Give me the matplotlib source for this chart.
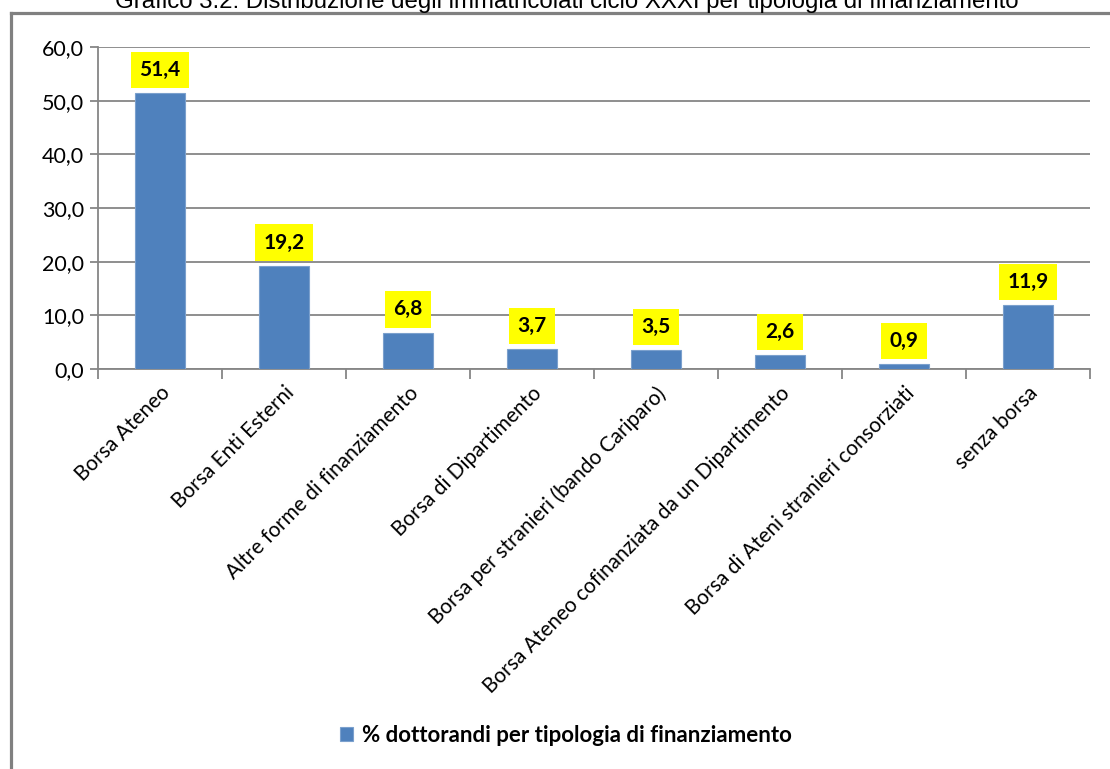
import matplotlib.pyplot as plt
from matplotlib.lines import Line2D

categorie = [
    "Borsa Ateneo",
    "Borsa Enti Esterni",
    "Altre forme di finanziamento",
    "Borsa di Dipartimento",
    "Borsa per stranieri (bando Cariparo)",
    "Borsa Ateneo cofinanziata da un Dipartimento",
    "Borsa di Ateni stranieri consorziati",
    "senza borsa",
]
valori = [51.4, 19.2, 6.8, 3.7, 3.5, 2.6, 0.9, 11.9]
yticks = [0, 10, 20, 30, 40, 50, 60]
titolo = "Grafico 3.2: Distribuzione degli immatricolati ciclo XXXI per tipologia di finanziamento"
legenda = "% dottorandi per tipologia di finanziamento"

W, H = 1110, 769
fig = plt.figure(figsize=(W / 100, H / 100), dpi=100)
ax = fig.add_axes([98 / W, 1 - 369 / H, (1090 - 98) / W, (369 - 47) / H])

font = "Lato"
grigio = "#868686"

x = list(range(len(categorie)))
barre = ax.bar(x, valori, width=0.4, color="#4F81BD", edgecolor="#7BA0CD",
               linewidth=0.8, zorder=3, label=legenda)

ax.set_xlim(-0.5, len(categorie) - 0.5)
ax.set_ylim(0, 60)
ax.set_yticks(yticks)
ax.set_yticklabels([f"{v:.1f}".replace(".", ",") for v in yticks],
                   fontfamily=font, fontsize=15.5)
ax.yaxis.grid(True, color=grigio, linewidth=1.3, zorder=0)

# tick tra le categorie sull'asse x
ax.set_xticks([i + 0.5 for i in range(-1, len(categorie))], minor=False)
ax.set_xticklabels([])
ax.set_xticks(x, minor=True)
ax.set_xticklabels(categorie, minor=True, rotation=45, ha="right", va="top",
                   rotation_mode="anchor", fontfamily=font, fontsize=15)
ax.tick_params(axis="x", which="minor", length=0, pad=10)
ax.tick_params(axis="x", which="major", length=7, color=grigio, width=1.3)
ax.tick_params(axis="y", length=6, color=grigio, width=1.3, pad=4)

for lato in ["top", "right"]:
    ax.spines[lato].set_visible(False)
for lato in ["left", "bottom"]:
    ax.spines[lato].set_color(grigio)
    ax.spines[lato].set_linewidth(1.3)

for b, v in zip(barre, valori):
    ax.annotate(f"{v:.1f}".replace(".", ","),
                (b.get_x() + b.get_width() / 2, v),
                xytext=(0, 9.5), textcoords="offset points",
                ha="center", va="bottom", fontfamily=font, fontweight="bold",
                fontsize=15, zorder=5,
                bbox=dict(boxstyle="square,pad=0.4", fc="#FFFF00", ec="none"))

# cornice
fig.add_artist(Line2D([10.5 / W, 1], [1 - 12.5 / H, 1 - 12.5 / H],
                      transform=fig.transFigure, color="#808080", linewidth=2.3))
fig.add_artist(Line2D([10.5 / W, 10.5 / W], [0, 1 - 12.5 / H],
                      transform=fig.transFigure, color="#808080", linewidth=2.3))

fig.text(567 / W, 1 - 8 / H, titolo, ha="center", va="baseline",
         fontfamily="Liberation Sans", fontsize=17.3)

fig.legend(handles=[barre], labels=[legenda], loc="center",
           bbox_to_anchor=(566 / W, 1 - 735 / H), frameon=False,
           handlelength=0.6, handleheight=0.6, handletextpad=0.4,
           prop=dict(family=font, weight="bold", size=16))

fig.savefig("out.png", dpi=100)
